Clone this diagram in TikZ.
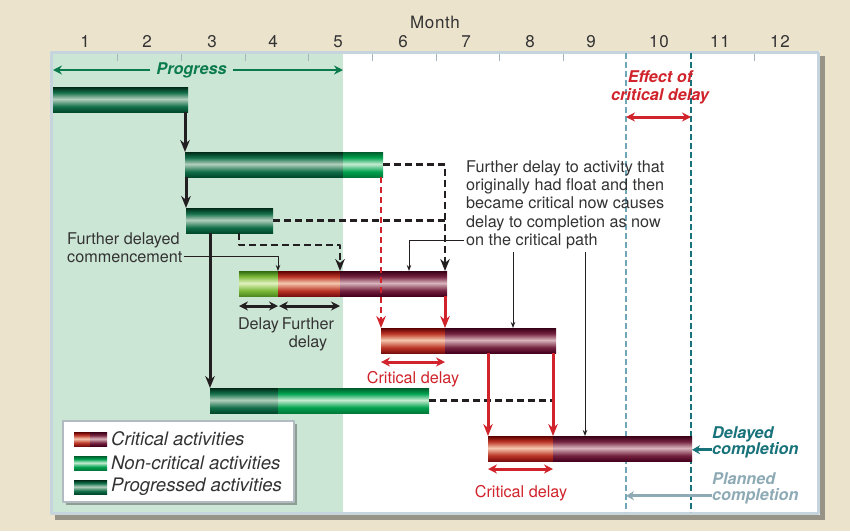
\documentclass[tikz,border=0pt]{standalone}
\usepackage{fontspec}
\setmainfont{TeX Gyre Heros}
\usetikzlibrary{arrows.meta,shadows}
\definecolor{bgbeige}{HTML}{ECE3CC}
\definecolor{panelline}{HTML}{C6D4DD}
\definecolor{greenbg}{HTML}{CCE6D5}
\definecolor{txtgray}{HTML}{333333}
\definecolor{lineblk}{HTML}{231F20}
\definecolor{proggreen}{HTML}{0B7B4E}
\definecolor{critred}{HTML}{D0232B}
\definecolor{tealdark}{HTML}{17727A}
\definecolor{teallight}{HTML}{6FA7B8}
\definecolor{planned}{HTML}{8EAAB5}
\definecolor{nclo}{HTML}{00793A}\definecolor{ncmd}{HTML}{00A24F}\definecolor{nchi}{HTML}{C6ECD1}\definecolor{nctp}{HTML}{005C2C}
\definecolor{pglo}{HTML}{00492A}\definecolor{pgmd}{HTML}{13704A}\definecolor{pghi}{HTML}{B2CFBC}\definecolor{pgtp}{HTML}{002A17}
\definecolor{yglo}{HTML}{4E8A20}\definecolor{ygmd}{HTML}{7CBA3A}\definecolor{yghi}{HTML}{E2F2C0}\definecolor{ygtp}{HTML}{2F6A10}
\definecolor{crlo}{HTML}{7A0F0F}\definecolor{crmd}{HTML}{BC3526}\definecolor{crhi}{HTML}{F5C8AE}\definecolor{crtp}{HTML}{5C0000}
\definecolor{mrlo}{HTML}{45001E}\definecolor{mrmd}{HTML}{74223F}\definecolor{mrhi}{HTML}{D9B5BD}\definecolor{mrtp}{HTML}{380016}
\pgfdeclareverticalshading{pgshade}{100bp}{color(0bp)=(pglo); color(25bp)=(pglo); color(36bp)=(pgmd); color(51bp)=(pghi); color(64bp)=(pgmd); color(75bp)=(pgtp); color(100bp)=(pgtp)}
\pgfdeclareverticalshading{ncshade}{100bp}{color(0bp)=(nclo); color(25bp)=(nclo); color(36bp)=(ncmd); color(51bp)=(nchi); color(64bp)=(ncmd); color(75bp)=(nctp); color(100bp)=(nctp)}
\pgfdeclareverticalshading{ygshade}{100bp}{color(0bp)=(yglo); color(25bp)=(yglo); color(36bp)=(ygmd); color(51bp)=(yghi); color(64bp)=(ygmd); color(75bp)=(ygtp); color(100bp)=(ygtp)}
\pgfdeclareverticalshading{crshade}{100bp}{color(0bp)=(crlo); color(25bp)=(crlo); color(36bp)=(crmd); color(51bp)=(crhi); color(64bp)=(crmd); color(75bp)=(crtp); color(100bp)=(crtp)}
\pgfdeclareverticalshading{mrshade}{100bp}{color(0bp)=(mrlo); color(25bp)=(mrlo); color(36bp)=(mrmd); color(51bp)=(mrhi); color(64bp)=(mrmd); color(75bp)=(mrtp); color(100bp)=(mrtp)}
\begin{document}
\begin{tikzpicture}[x=1pt,y=-1pt,line join=round,>={Stealth[length=12pt,width=9.5pt]},font=\fontsize{16.2}{18.3}\selectfont,text=txtgray]
	\tikzset{seg/.style={anchor=north west,inner sep=0pt,outer sep=0pt,minimum height=25pt,shade},
		progbar/.style={seg,shading=pgshade},
		noncrit/.style={seg,shading=ncshade},
		delaybar/.style={seg,shading=ygshade},
		critbar/.style={seg,shading=crshade},
		latebar/.style={seg,shading=mrshade},
		conn/.style={draw=lineblk,line width=3pt},
		dashln/.style={draw=lineblk,line width=2.4pt,dash pattern=on 7pt off 4pt},
		rconn/.style={draw=critred,line width=3pt},
		rdash/.style={draw=critred,line width=2pt,dash pattern=on 6pt off 4pt},
		note/.style={draw=lineblk,line width=0.9pt,-{Stealth[length=6pt,width=4.5pt]}},
		gapline/.style={draw=lineblk,line width=3pt,{Stealth[length=9pt,width=9pt]}-{Stealth[length=9pt,width=9pt]}},
		rgap/.style={gapline,draw=critred},
		lbl/.style={inner sep=0pt},
		axlbl/.style={inner sep=0pt,font=\fontsize{17}{18}\selectfont\addfontfeature{LetterSpace=4}},
		boldlbl/.style={inner sep=0pt,font=\fontsize{16.2}{18.3}\selectfont\bfseries\itshape},
		legtxt/.style={inner sep=0pt,anchor=west,xshift=4pt,font=\fontsize{18.6}{20}\selectfont\itshape,text=black!80}}
	\useasboundingbox (0,0) rectangle (850,531);
	\fill[bgbeige] (0,0) rectangle (850,531);
	\fill[white,drop shadow={shadow xshift=5pt,shadow yshift=-5pt,opacity=.45,fill=black!80}] (50,51) rectangle (820,515);
	\fill[greenbg] (50,51) rectangle (343,515);
	\draw[panelline,line width=3pt] (51.5,52.5) rectangle (818.5,513.5);
	\foreach \x in {117,181,245,308,372,436,499,563,754} \draw[panelline!85!black,line width=1pt] (\x,54) -- (\x,61);
	\node[axlbl] (month) at (435,22) {Month};
	\foreach \x/\m in {85/1,147/2,212/3,273/4,338/5,403/6,466/7,530/8,591/9,659/10,720/11,780/12}
		\node[axlbl,anchor=base] (m\m) at (\x,47) {\m};
	% progress to date
	\node[boldlbl,text=proggreen,inner xsep=6pt] (prog) at (191.5,70) {Progress};
	\coordinate (pgl) at (53,70); \coordinate (pgr) at (343,70);
	\draw[proggreen,line width=2.6pt,-{Stealth[length=9pt,width=9pt]}] (prog.west) -- (pgl);
	\draw[proggreen,line width=2.6pt,-{Stealth[length=9pt,width=9pt]}] (prog.east) -- (pgr);
	% planned and delayed completion
	\coordinate (plan) at (626,53); \coordinate (dlay) at (691,53);
	\draw[teallight,line width=1.1pt,dash pattern=on 6pt off 3pt] (plan) -- (plan |- 0,512);
	\draw[tealdark,line width=1.1pt,dash pattern=on 6pt off 3pt] (dlay) -- (dlay |- 0,512);
	\node[boldlbl,text=critred,align=center,anchor=north] (eff) at (660,70.5) {Effect of\\critical delay};
	\draw[rgap] (plan |- 0,117) -- (dlay |- 0,117);
	% bars
	\node[progbar,minimum width=135] (b1) at (53,87) {};
	\node[progbar,minimum width=158] (b2a) at (185,152) {};
	\node[noncrit,minimum width=40] (b2b) at (343,152) {};
	\node[progbar,minimum width=87] (b3) at (186,208) {};
	\node[delaybar,minimum width=39] (b4a) at (239,271) {};
	\node[critbar,minimum width=62] (b4b) at (278,271) {};
	\node[latebar,minimum width=107] (b4c) at (340,271) {};
	\node[critbar,minimum width=64] (b5a) at (381,328) {};
	\node[latebar,minimum width=111] (b5b) at (445,328) {};
	\node[progbar,minimum width=68] (b6a) at (210,388) {};
	\node[noncrit,minimum width=151] (b6b) at (278,388) {};
	\node[critbar,minimum width=65] (b7a) at (488,436) {};
	\node[latebar,minimum width=139] (b7b) at (553,436) {};
	% links
	\draw[conn,->] (b2a.north west |- b1.south) -- (b2a.north west);
	\draw[conn,->] (b3.north west |- b2a.south) -- (b3.north west);
	\draw[conn,->] (b6a.north west |- b3.south) -- (b6a.north west);
	\coordinate (j1) at ([xshift=-2pt]b4c.north east);
	\draw[dashln,->] (b2b.east) -| (j1);
	\draw[dashln] (b3.east) -- (b3.east -| j1);
	\draw[dashln,->] (b4a.north west |- b3.south) -- ++(0,12) -| (b4b.north east);
	\draw[dashln] (b6b.east) -- (b6b.east -| b7a.north east);
	\draw[rdash,->] (b5a.north west |- b2b.south) -- (b5a.north west);
	\draw[rconn,->] (b5a.north east |- b4c.south) -- (b5a.north east);
	\draw[rconn,->] (b7a.north west |- b5b.south) -- (b7a.north west);
	\draw[rconn,->] (b7a.north east |- b5b.south) -- (b7a.north east);
	% notes
	\node[lbl,anchor=base west] (fd1) at (67,244) {Further delayed};
	\node[lbl,anchor=base west,inner xsep=1pt] (fd2) at (66,262) {commencement};
	\draw[note] (fd2.east) -| (b4b.north west);
	\node[lbl,anchor=north west,align=left] (ft) at (466,160.3) {Further delay to activity that\\originally had float and then\\became critical now causes\\delay to completion as now};
	\node[lbl,anchor=base west,inner xsep=2pt] (ft5) at (464,245) {on the critical path};
	\draw[note] (ft5.west) -| ([xshift=69pt]b4c.north west);
	\coordinate (n1) at ([xshift=68pt]b5b.north west);
	\coordinate (n2) at ([xshift=32pt]b7b.north west);
	\draw[note] (n1 |- 0,252) -- (n1);
	\draw[note] (n2 |- 0,252) -- (n2);
	\draw[gapline] ([yshift=-10pt]b4a.south west) -- ([yshift=-10pt]b4a.south east);
	\draw[gapline] ([yshift=-10pt,xshift=1pt]b4b.south west) -- ([yshift=-10pt]b4b.south east);
	\node[lbl,anchor=base] (dly) at (258.5,329) {Delay};
	\node[lbl,anchor=north,align=center] (fdly) at (308,317.3) {Further\\delay};
	\draw[rgap] ([yshift=-9pt]b5a.south west) -- ([yshift=-9pt]b5a.south east);
	\node[lbl,anchor=base,text=critred] (cd1) at (413,383) {Critical delay};
	\draw[rgap] ([yshift=-8pt]b7a.south west) -- ([yshift=-8pt]b7a.south east);
	\node[lbl,anchor=base,text=critred] (cd2) at (521,497) {Critical delay};
	\node[boldlbl,anchor=base west,text=tealdark] (dc1) at (712,438) {Delayed};
	\node[boldlbl,anchor=base west,text=tealdark] (dc2) at (712,454) {completion};
	\draw[tealdark,line width=2.8pt,-{Stealth[length=8pt,width=9pt]}] (dc2.west) -- (dc2.west -| b7b.east);
	\node[boldlbl,anchor=base west,text=planned] (pc1) at (712,484) {Planned};
	\node[boldlbl,anchor=base west,text=planned] (pc2) at (712,500) {completion};
	\draw[planned,line width=2.8pt,-{Stealth[length=8pt,width=9pt]}] (pc2.west) -- (pc2.west -| plan);
	% key
	\draw[panelline!70!gray,line width=1.2pt,fill=white,drop shadow={shadow xshift=3pt,shadow yshift=-3pt,opacity=.4,fill=black!80}] (63,421) rectangle (294,502);
	\node[critbar,minimum height=14pt,minimum width=16] (k1a) at (74,432) {};
	\node[latebar,minimum height=14pt,minimum width=17] (k1b) at (90,432) {};
	\node[noncrit,minimum height=14pt,minimum width=33] (k2) at (74,456) {};
	\node[progbar,minimum height=14pt,minimum width=33] (k3) at (74,480) {};
	\node[legtxt] (l1) at (k1b.east) {Critical activities};
	\node[legtxt] (l2) at (k2.east) {Non-critical activities};
	\node[legtxt] (l3) at (k3.east) {Progressed activities};
\end{tikzpicture}
\end{document}
